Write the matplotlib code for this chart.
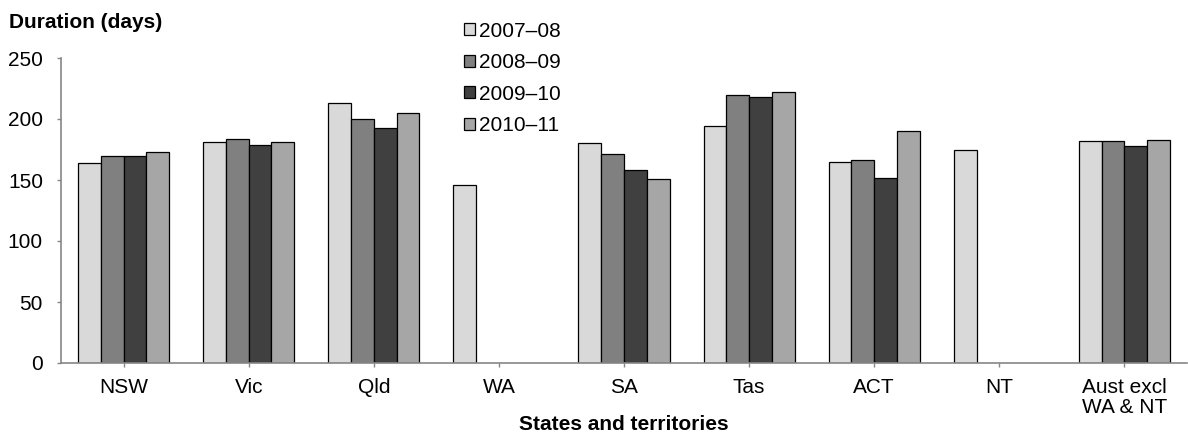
import matplotlib
matplotlib.use("Agg")
import matplotlib.pyplot as plt
import numpy as np

plt.rcParams['font.family'] = ['Liberation Sans', 'DejaVu Sans']

categories = ["NSW", "Vic", "Qld", "WA", "SA", "Tas", "ACT", "NT", "Aust excl\nWA & NT"]
series_names = ["2007–08", "2008–09", "2009–10", "2010–11"]
v_2007_08 = [164, 181, 213, 146, 180, 194, 165, 175, 182]
v_2008_09 = [170, 184, 200, np.nan, 171, 220, 166, np.nan, 182]
v_2009_10 = [170, 179, 193, np.nan, 158, 218, 152, np.nan, 178]
v_2010_11 = [173, 181, 205, np.nan, 151, 222, 190, np.nan, 183]
colors = ["#D9D9D9", "#808080", "#404040", "#A6A6A6"]

series = [v_2007_08, v_2008_09, v_2009_10, v_2010_11]

W, H = 1188, 437
fig = plt.figure(figsize=(W / 100, H / 100), dpi=100)
ax = fig.add_axes([61 / W, 1 - 363 / H, 1126 / W, (363 - 58) / H])

x = np.arange(len(categories))
w = 0.182
handles = []
for i, (vals, c, name) in enumerate(zip(series, colors, series_names)):
    h = ax.bar(x + (i - 1.5) * w, vals, width=w, color=c, edgecolor="black",
               linewidth=0.9, label=name)
    handles.append(h)

FS = 15
ax.set_xlim(-0.5, len(categories) - 0.5)
ax.set_ylim(0, 250)
ax.set_yticks([0, 50, 100, 150, 200, 250])
ax.set_xticks(x)
ax.set_xticklabels(categories, fontsize=FS, linespacing=1.05)
ax.tick_params(axis='y', labelsize=FS, colors="black", length=3, width=1,
               color="#868686", pad=10)
ax.tick_params(axis='x', length=3, width=1, color="#868686", pad=8)
for s in ["top", "right"]:
    ax.spines[s].set_visible(False)
for s in ["left", "bottom"]:
    ax.spines[s].set_color("#868686")
    ax.spines[s].set_linewidth(1.2)

ax.set_xlabel("States and territories", fontsize=FS, fontweight="bold", va="center")
ax.xaxis.set_label_coords(0.5, -(424 - 363) / 305)
fig.text(9 / W, 1 - 23 / H, "Duration (days)", fontsize=FS, fontweight="bold",
         va="center", ha="left")

fig.legend(handles=handles, labels=series_names, loc="upper left",
           bbox_to_anchor=(449 / W, 1 - 7 / H), frameon=False, fontsize=FS,
           handlelength=0.53, handleheight=0.53, handletextpad=0.2,
           labelspacing=0.6, borderpad=0.2)

fig.savefig("out.png", dpi=100)
